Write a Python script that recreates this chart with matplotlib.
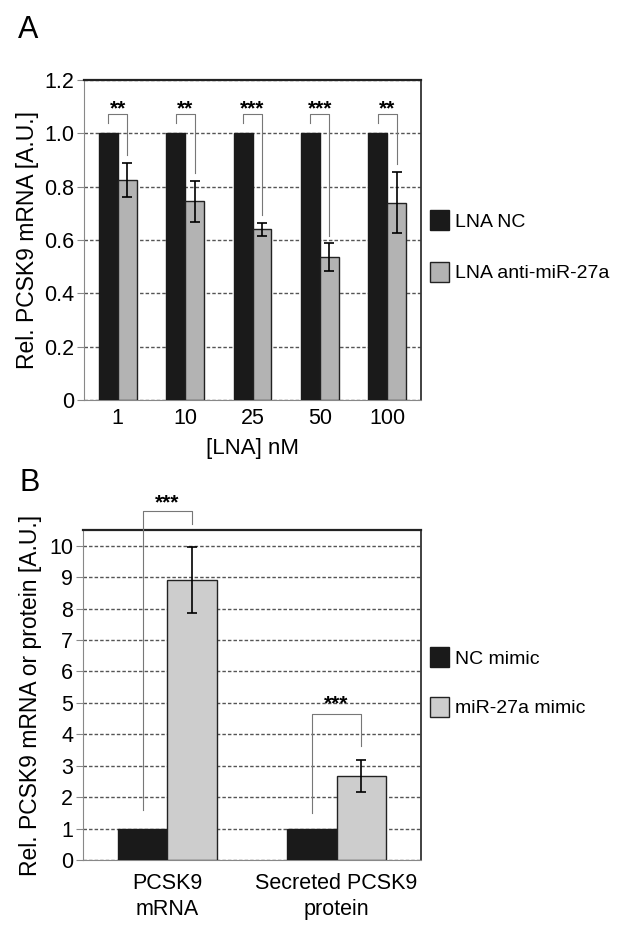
import matplotlib
matplotlib.use("Agg")
import matplotlib.pyplot as plt
import numpy as np

plt.rcParams['font.family'] = ['Liberation Sans', 'DejaVu Sans']

# panel A data
lna_doses = ['1', '10', '25', '50', '100']
lna_nc = [1.0, 1.0, 1.0, 1.0, 1.0]
lna_anti = [0.825, 0.745, 0.64, 0.535, 0.74]
lna_anti_err = [0.065, 0.077, 0.025, 0.052, 0.115]
stars_a = ['**', '**', '***', '***', '**']

# panel B data
b_labels = ['PCSK9\nmRNA', 'Secreted PCSK9\nprotein']
nc_mimic = [1.0, 1.0]
mir_mimic = [8.92, 2.67]
mir_mimic_err = [1.05, 0.52]
stars_b = ['***', '***']

black = '#1a1a1a'
gray_a = '#b3b3b3'
gray_b = '#cdcdcd'
grid_c = '#555555'


def style_axes(ax):
    ax.spines['left'].set_color('#888888')
    ax.spines['bottom'].set_color('#888888')
    ax.spines['right'].set_color('#333333')
    ax.spines['top'].set_color('#222222')
    ax.spines['top'].set_linewidth(1.6)
    ax.spines['right'].set_linewidth(1.3)
    ax.tick_params(axis='y', length=5, color='#888888', labelsize=15.5, pad=2)
    ax.tick_params(axis='x', length=0, labelsize=15.5, pad=6)
    ax.yaxis.grid(True, linestyle=(0, (2.5, 1.5)), color=grid_c, linewidth=1.0)
    ax.set_axisbelow(True)


def bracket(ax, x1, x2, y, y1, y2, label, star_y):
    ax.plot([x1, x1, x2, x2], [y1, y, y, y2], color='#777777', lw=0.8,
            clip_on=False, zorder=5)
    ax.text((x1 + x2) / 2, star_y, label, ha='center', va='center',
            fontsize=15, fontweight='bold', clip_on=False)


fig = plt.figure(figsize=(6.24, 9.33), dpi=100)

# ---- panel A
ax1 = fig.add_axes([0.1346, 0.5713, 0.5401, 0.3430])
x = np.arange(len(lna_doses))
w = 0.28
ax1.bar(x - w / 2, lna_nc, w, color=black, edgecolor=black, lw=1,
        label='LNA NC', zorder=3)
ax1.bar(x + w / 2, lna_anti, w, color=gray_a, edgecolor='#222222', lw=1,
        yerr=lna_anti_err, capsize=3.5, error_kw=dict(lw=1.2, capthick=1.2),
        label='LNA anti-miR-27a', zorder=3)
ax1.set_xlim(-0.5, len(lna_doses) - 0.5)
ax1.set_ylim(0, 1.2)
ax1.set_yticks([0, 0.2, 0.4, 0.6, 0.8, 1.0, 1.2])
ax1.set_yticklabels(['0', '0.2', '0.4', '0.6', '0.8', '1.0', '1.2'])
ax1.set_xticks(x)
ax1.set_xticklabels(lna_doses)
style_axes(ax1)
ax1.set_ylabel('Rel. PCSK9 mRNA [A.U.]', fontsize=16.5, labelpad=4)
ax1.set_xlabel('[LNA] nM', fontsize=16, labelpad=6)
for i in range(len(lna_doses)):
    top = lna_anti[i] + lna_anti_err[i] + 0.028
    bracket(ax1, x[i] - w / 2, x[i] + w / 2, 1.072, 1.04, top, stars_a[i], 1.09)
ax1.legend(loc='upper left', bbox_to_anchor=(0.975, 0.648), frameon=False,
           fontsize=14, handlelength=0.95, handleheight=1.2,
           labelspacing=1.6, handletextpad=0.35)

# ---- panel B
ax2 = fig.add_axes([0.133, 0.0782, 0.5417, 0.3537])
xb = np.arange(len(b_labels))
wb = 0.29
ax2.bar(xb - wb / 2, nc_mimic, wb, color=black, edgecolor=black, lw=1,
        label='NC mimic', zorder=3)
ax2.bar(xb + wb / 2, mir_mimic, wb, color=gray_b, edgecolor='#222222', lw=1,
        yerr=mir_mimic_err, capsize=3.5, error_kw=dict(lw=1.2, capthick=1.2),
        label='miR-27a mimic', zorder=3)
ax2.set_xlim(-0.5, len(b_labels) - 0.5)
ax2.set_ylim(0, 10.5)
ax2.set_yticks(range(0, 11))
ax2.set_xticks(xb)
ax2.set_xticklabels(b_labels, linespacing=1.35)
style_axes(ax2)
ax2.tick_params(axis='x', pad=9)
ax2.set_ylabel('Rel. PCSK9 mRNA or protein [A.U.]', fontsize=16.5, labelpad=5)
bracket(ax2, xb[0] - wb / 2, xb[0] + wb / 2, 11.1, 1.59, 10.7, stars_b[0], 11.35)
bracket(ax2, xb[1] - wb / 2, xb[1] + wb / 2, 4.66, 1.49, 3.62, stars_b[1], 4.98)
ax2.legend(loc='upper left', bbox_to_anchor=(0.975, 0.698), frameon=False,
           fontsize=14, handlelength=0.95, handleheight=1.2,
           labelspacing=1.5, handletextpad=0.35)

fig.text(0.045, 0.984, 'A', fontsize=22, va='top', ha='center')
fig.text(0.048, 0.4984, 'B', fontsize=22, va='top', ha='center')

fig.savefig('out.png', dpi=100)
